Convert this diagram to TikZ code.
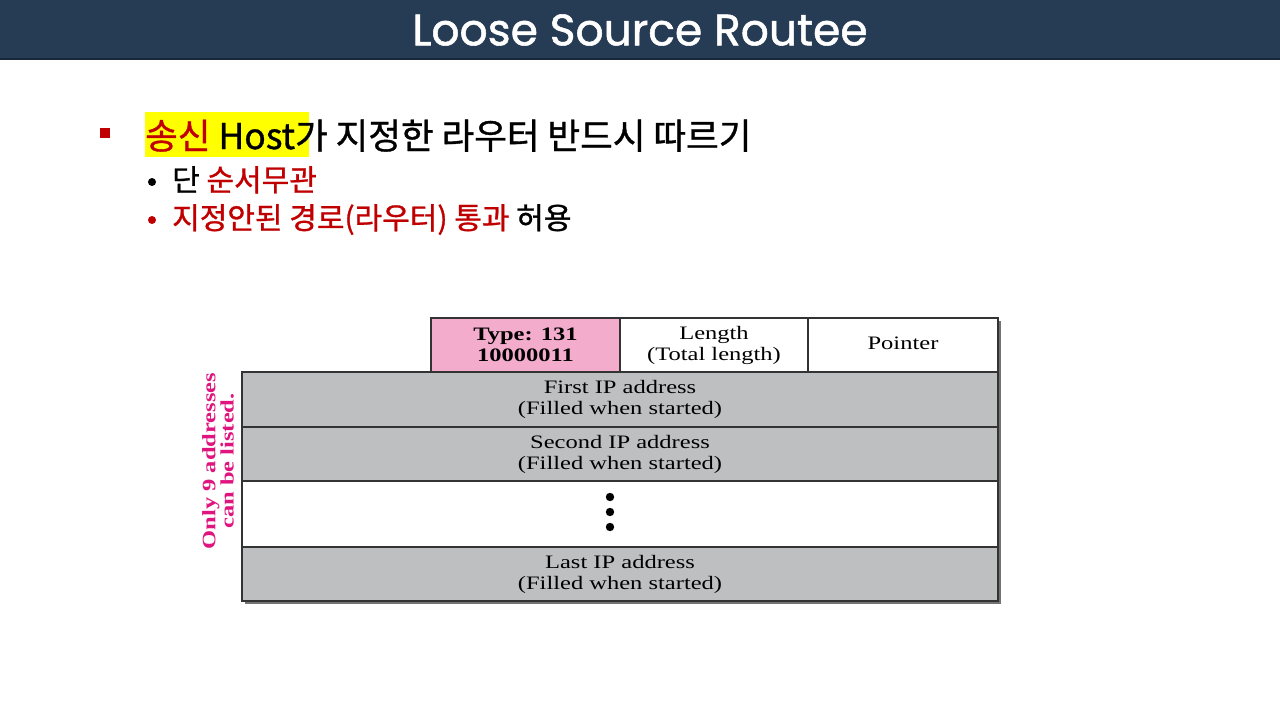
\documentclass[tikz,border=0pt]{standalone}
\usepackage{fontspec}
\setmainfont{Liberation Serif}[FakeStretch=1.29]
\newfontfamily\titlefont{Poppins}[FakeBold=1.2]
\newfontfamily\kfont{Noto Sans CJK KR}[FakeBold=1]
\definecolor{barblue}{HTML}{263C54}
\definecolor{bardark}{HTML}{16283A}
\definecolor{kred}{HTML}{C00000}
\definecolor{hiyellow}{HTML}{FFFF00}
\definecolor{typepink}{HTML}{F4ACCC}
\definecolor{fieldgray}{HTML}{BEBFC1}
\definecolor{notepink}{HTML}{E0147F}
\tikzset{
  field/.style={draw=black!80, line width=1.2pt},
  fieldtext/.style={align=center, font=\fontsize{19}{21}\selectfont, inner sep=0pt},
  subline/.style={anchor=base west, inner sep=0pt, font=\kfont\fontsize{30}{30}\selectfont},
}

\begin{document}
\begin{tikzpicture}[x=1pt, y=-1pt]
  \useasboundingbox (0,0) rectangle (1280,720);
  % title bar
  \fill[barblue] (0,0) rectangle (1280,59);
  \draw[bardark, line width=2pt] (0,59) -- (1280,59);
  \node[text=white, font=\titlefont\fontsize{44}{44}\selectfont] (title) at (640,30) {Loose Source Routee};

  % bullets
  \fill[kred] (100,128) rectangle (110,138);
  \fill[hiyellow] (145,112) rectangle (309,157);
  \node[anchor=base west, inner sep=0pt, font=\kfont\fontsize{35.5}{36}\selectfont] (line1) at (145,149)
    {\textcolor{kred}{송신} Host가 지정한 라우터 반드시 따르기};
  \fill (152,182) circle (4);
  \node[subline] (line2) at (172,191) {단 \textcolor{kred}{순서무관}};
  \fill[kred] (152,220) circle (4);
  \node[subline] (line3) at (172,229) {\textcolor{kred}{지정안된 경로(라우터) 통과} 허용};

  % shadow
  \fill[black!55] (434,321) rectangle (1001,375);
  \fill[black!55] (245,375) rectangle (1001,604);

  % top row: type, length, pointer
  \filldraw[field, fill=typepink] (431,318) rectangle (620,372);
  \filldraw[field, fill=white] (620,318) rectangle (808,372);
  \filldraw[field, fill=white] (808,318) rectangle (998,372);
  \node[fieldtext, font=\bfseries\fontsize{19}{21}\selectfont] (type) at (525.5,345) {Type: 131\\10000011};
  \node[fieldtext] (length) at (714,345) {Length\\(Total length)};
  \node[fieldtext] (pointer) at (903,343) {Pointer};

  % address rows
  \filldraw[field, fill=fieldgray] (242,372) rectangle (998,427);
  \filldraw[field, fill=fieldgray] (242,427) rectangle (998,481);
  \filldraw[field, fill=white] (242,481) rectangle (998,547);
  \filldraw[field, fill=fieldgray] (242,547) rectangle (998,601);
  \node[fieldtext] (first) at (620,399) {First IP address\\(Filled when started)};
  \node[fieldtext] (second) at (620,454) {Second IP address\\(Filled when started)};
  \node[fieldtext] (last) at (620,574) {Last IP address\\(Filled when started)};
  \foreach \y in {497,512,527}
    \fill (610,\y) circle (4.2);

  % side note
  \node[rotate=90, align=center, text=notepink, inner sep=0pt,
        font=\bfseries\fontsize{19}{17}\selectfont] (note) at (218,461) {Only 9 addresses\\can be listed.};
\end{tikzpicture}
\end{document}
